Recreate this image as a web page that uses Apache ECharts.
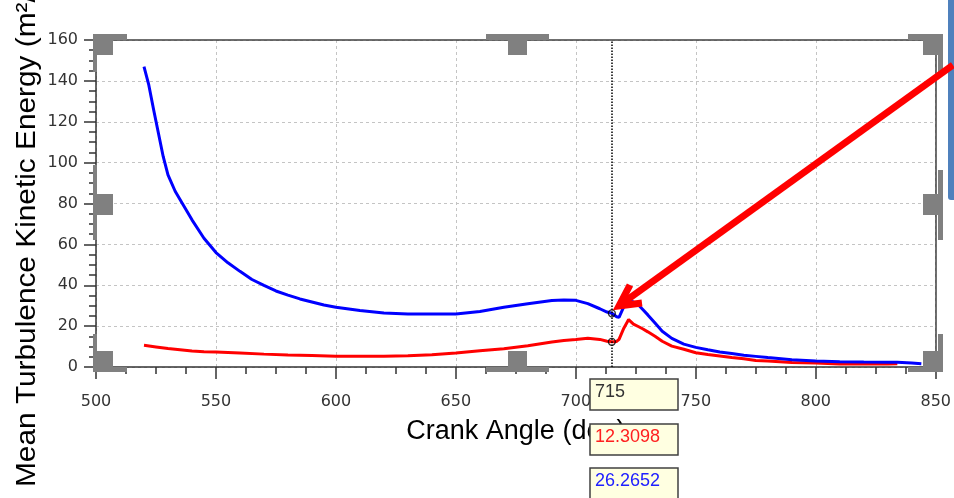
<!DOCTYPE html>
<html>
<head>
<meta charset="utf-8">
<title>Mean Turbulence Kinetic Energy vs Crank Angle</title>
<script src="https://cdn.jsdelivr.net/npm/echarts@6/dist/echarts.min.js"></script>
<style>
  html, body { margin: 0; padding: 0; background: #ffffff; }
  #chart { width: 954px; height: 498px; }
</style>
</head>
<body>
<div id="chart"></div>
<script>
// Crank angle (deg) and mean TKE for the two cases
const angleBlue = [520, 522, 524, 526, 528, 530, 533, 536, 540, 545, 550, 555, 560, 565, 570, 575, 580, 585, 590, 595,
  600, 610, 620, 630, 640, 650, 660, 670, 680, 690, 695, 700, 705, 710, 713, 715, 717, 718, 720, 722,
  724, 726, 728, 730, 733, 736, 740, 745, 750, 755, 760, 765, 770, 775, 780, 790, 800, 810, 820, 830, 834, 840, 844];
const tkeBlue = [147, 138, 126, 114.5, 103, 94, 86, 80, 72, 63, 56, 51, 46.8, 42.8, 39.9, 37.2, 35.2, 33.3, 31.8, 30.3,
  29.2, 27.7, 26.4, 25.9, 25.9, 25.9, 27.2, 29.2, 31.0, 32.5, 32.8, 32.6, 31.0, 28.5, 26.9, 26.2652, 24.6, 24.3, 29.5, 32.5,
  31.8, 30.5, 28.0, 25.5, 21.5, 17.5, 14.0, 11.2, 9.6, 8.4, 7.3, 6.6, 5.8, 5.2, 4.6, 3.5, 2.9, 2.6, 2.4, 2.3, 2.3, 2.0, 1.6];

const angleRed = [520, 525, 530, 535, 540, 545, 550, 560, 570, 580, 590, 600, 610, 620, 630, 640, 650, 660, 670, 680,
  690, 695, 700, 705, 710, 713, 715, 717, 718, 720, 722, 724, 726, 728, 730, 733, 736, 740, 745, 750,
  755, 760, 765, 770, 775, 780, 790, 800, 810, 820, 830, 834];
const tkeRed = [10.6, 9.8, 9.0, 8.4, 7.8, 7.5, 7.3, 6.8, 6.3, 5.9, 5.6, 5.3, 5.2, 5.3, 5.5, 6.0, 6.8, 7.9, 8.9, 10.4,
  12.2, 13.0, 13.5, 14.1, 13.5, 12.6, 12.3098, 12.5, 13.5, 19.0, 23.2, 21.0, 19.8, 18.6, 17.2, 15.0, 12.6, 10.2, 8.7, 7.0,
  6.1, 5.4, 4.6, 4.0, 3.2, 2.9, 2.2, 1.9, 1.5, 1.5, 1.5, 1.6];

// Cursor readout
const cursorAngle = 715;
const cursorRed = 12.3098;
const cursorBlue = 26.2652;

const xTicks = { min: 500, max: 850, step: 50 };
const yTicks = { min: 0, max: 160, step: 20 };

const xName = 'Crank Angle (deg)';
const yName = 'Mean Turbulence Kinetic Energy (m²/s²)';

const zip = (xs, ys) => xs.map((x, i) => [x, ys[i]]);

const chart = echarts.init(document.getElementById('chart'), null, { renderer: 'canvas' });

const GRAY = '#808080';
// selection handles around the plot frame
function handle(sq, bars) {
  const els = bars.map(b => ({ type: 'rect', shape: b, style: { fill: GRAY }, z: 100 }));
  els.push({ type: 'rect', shape: sq, style: { fill: GRAY }, z: 100 });
  return els;
}
const handles = [].concat(
  handle({ x: 93, y: 34, width: 20, height: 21 }, [{ x: 93, y: 34, width: 34, height: 6 }, { x: 93, y: 34, width: 4, height: 38 }]),
  handle({ x: 508, y: 34, width: 19, height: 21 }, [{ x: 486, y: 34, width: 63, height: 6 }]),
  handle({ x: 923, y: 34, width: 20, height: 21 }, [{ x: 908, y: 34, width: 35, height: 6 }, { x: 938, y: 34, width: 5, height: 38 }]),
  handle({ x: 93, y: 194, width: 20, height: 21 }, [{ x: 93, y: 165, width: 4, height: 75 }]),
  handle({ x: 923, y: 194, width: 20, height: 21 }, [{ x: 938, y: 170, width: 5, height: 70 }]),
  handle({ x: 93, y: 351, width: 20, height: 21 }, [{ x: 93, y: 334, width: 4, height: 38 }, { x: 93, y: 367, width: 34, height: 5 }]),
  handle({ x: 508, y: 351, width: 19, height: 21 }, [{ x: 486, y: 367, width: 63, height: 5 }]),
  handle({ x: 923, y: 351, width: 20, height: 21 }, [{ x: 938, y: 334, width: 5, height: 38 }, { x: 908, y: 367, width: 35, height: 5 }])
);

// readout boxes under the cursor
function readout(y, text, color) {
  return [
    { type: 'rect', z: 120, shape: { x: 590, y: y, width: 88, height: 31 }, style: { fill: '#ffffe1', stroke: '#404040', lineWidth: 1.5 } },
    { type: 'text', z: 121, x: 595, y: y + 13, style: { text: text, fill: color, font: '18px "Liberation Sans", Arial, sans-serif', textVerticalAlign: 'middle' } }
  ];
}

const arrowStyle = { stroke: '#ff0000', lineWidth: 7, lineCap: 'butt', lineJoin: 'miter', fill: null };

const tickStyle = { color: '#333', width: 1.5 };
const gridLine = { show: true, lineStyle: { color: '#c4c4c4', type: [3, 3], width: 1 } };
const labelFont = { fontSize: 16, color: '#333', fontFamily: '"DejaVu Sans", sans-serif' };
// frame edges (top and right) drawn as bare axis lines
const frameX = { type: 'value', position: 'top', min: xTicks.min, max: xTicks.max, interval: xTicks.step, z: 10,
  axisLine: { show: true, onZero: false, lineStyle: { color: '#404040', width: 1.5 } },
  axisTick: { show: false }, axisLabel: { show: false }, splitLine: { show: false } };
const frameY = { type: 'value', position: 'right', min: yTicks.min, max: yTicks.max, interval: yTicks.step, z: 10,
  axisLine: { show: true, onZero: false, lineStyle: { color: '#404040', width: 1.5 } },
  axisTick: { show: false }, axisLabel: { show: false }, splitLine: { show: false } };

chart.setOption({
  animation: false,
  backgroundColor: '#ffffff',
  grid: { left: 96, right: 16, top: 40, bottom: 131 },
  xAxis: [{
    type: 'value', position: 'bottom', min: xTicks.min, max: xTicks.max, interval: xTicks.step,
    name: xName, nameLocation: 'middle', nameGap: 51,
    nameTextStyle: { fontSize: 27, color: '#000', fontFamily: '"Liberation Sans", Arial, sans-serif' },
    axisLine: { show: true, onZero: false, lineStyle: tickStyle },
    axisTick: { show: true, length: 12, lineStyle: tickStyle },
    minorTick: { show: true, splitNumber: 4, length: 7, lineStyle: tickStyle },
    axisLabel: Object.assign({ margin: 27 }, labelFont),
    splitLine: gridLine
  }, frameX],
  yAxis: [{
    type: 'value', position: 'left', min: yTicks.min, max: yTicks.max, interval: yTicks.step,
    axisLine: { show: true, onZero: false, lineStyle: tickStyle },
    axisTick: { show: true, length: 12, lineStyle: tickStyle },
    minorTick: { show: true, splitNumber: 4, length: 7, lineStyle: tickStyle },
    axisLabel: Object.assign({ margin: 18 }, labelFont),
    splitLine: gridLine
  }, frameY],
  series: [
    {
      name: 'blue', type: 'line', data: zip(angleBlue, tkeBlue), showSymbol: false, smooth: false,
      lineStyle: { color: '#0000ff', width: 3 }, z: 3,
      markLine: {
        silent: true, symbol: 'none', label: { show: false },
        lineStyle: { color: '#000', type: 'dotted', width: 1.5 },
        data: [{ xAxis: cursorAngle }]
      }
    },
    {
      name: 'red', type: 'line', data: zip(angleRed, tkeRed), showSymbol: false, smooth: false,
      lineStyle: { color: '#ff0000', width: 3 }, z: 2
    },
    {
      name: 'cursor', type: 'scatter', data: [[cursorAngle, cursorBlue], [cursorAngle, cursorRed]],
      symbol: 'circle', symbolSize: 7, z: 5,
      itemStyle: { color: 'rgba(0,0,0,0)', borderColor: '#000', borderWidth: 1.3 }
    }
  ],
  graphic: [
    // axis title on the left, reading bottom to top
    {
      type: 'text', x: 27, y: 487, rotation: Math.PI / 2, scaleX: 1.065, z: 50,
      style: { text: yName, fill: '#000', font: '28px "Liberation Sans", Arial, sans-serif', textAlign: 'left', textVerticalAlign: 'middle' }
    },
    ...handles,
    // blue bar at the right edge
    { type: 'rect', shape: { x: 948, y: -6, width: 12, height: 206, r: 3 }, style: { fill: '#4f81bd' }, z: 90 },
    // red call-out arrow
    { type: 'polyline', shape: { points: [[953, 65], [620, 305]] }, style: arrowStyle, z: 110 },
    { type: 'polyline', shape: { points: [[630, 285], [619, 306], [642, 303]] }, style: arrowStyle, z: 110 },
    ...readout(379, String(cursorAngle), '#333'),
    ...readout(424, String(cursorRed), '#ff2020'),
    ...readout(468, String(cursorBlue), '#2020ff')
  ]
});
</script>
</body>
</html>
